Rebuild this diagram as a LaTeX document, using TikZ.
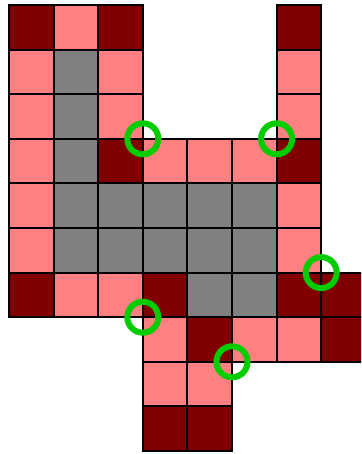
\documentclass[tikz,border=0pt]{standalone}
\definecolor{dk}{HTML}{800000}
\definecolor{pk}{HTML}{FF8080}
\definecolor{gy}{HTML}{808080}
\definecolor{gn}{HTML}{00CC00}
\tikzset{
  cell/.style={draw=black,line width=2pt},
  ring/.style={draw=gn,line width=6pt},
}
\begin{document}
\begin{tikzpicture}[x=1pt,y=-1pt]
\useasboundingbox (0,0) rectangle (361,454);
\clip (0,0) rectangle (361,454);
\def\s{44.6}
\def\xo{9}
\def\yo{5}
\foreach \c/\r/\col in {
 0/0/dk,1/0/pk,2/0/dk,6/0/dk,
 0/1/pk,1/1/gy,2/1/pk,6/1/pk,
 0/2/pk,1/2/gy,2/2/pk,6/2/pk,
 0/3/pk,1/3/gy,2/3/dk,3/3/pk,4/3/pk,5/3/pk,6/3/dk,
 0/4/pk,1/4/gy,2/4/gy,3/4/gy,4/4/gy,5/4/gy,6/4/pk,
 0/5/pk,1/5/gy,2/5/gy,3/5/gy,4/5/gy,5/5/gy,6/5/pk,
 0/6/dk,1/6/pk,2/6/pk,3/6/dk,4/6/gy,5/6/gy,6/6/dk,7/6/dk,
 3/7/pk,4/7/dk,5/7/pk,6/7/pk,7/7/dk,
 3/8/pk,4/8/pk,
 3/9/dk,4/9/dk}
{
  \fill[\col] ({\xo+\c*\s},{\yo+\r*\s}) rectangle ++(\s,\s);
}
\foreach \c/\r/\col in {
 0/0/dk,1/0/pk,2/0/dk,6/0/dk,
 0/1/pk,1/1/gy,2/1/pk,6/1/pk,
 0/2/pk,1/2/gy,2/2/pk,6/2/pk,
 0/3/pk,1/3/gy,2/3/dk,3/3/pk,4/3/pk,5/3/pk,6/3/dk,
 0/4/pk,1/4/gy,2/4/gy,3/4/gy,4/4/gy,5/4/gy,6/4/pk,
 0/5/pk,1/5/gy,2/5/gy,3/5/gy,4/5/gy,5/5/gy,6/5/pk,
 0/6/dk,1/6/pk,2/6/pk,3/6/dk,4/6/gy,5/6/gy,6/6/dk,7/6/dk,
 3/7/pk,4/7/dk,5/7/pk,6/7/pk,7/7/dk,
 3/8/pk,4/8/pk,
 3/9/dk,4/9/dk}
{
  \draw[cell] ({\xo+\c*\s},{\yo+\r*\s}) rectangle ++(\s,\s);
}
\foreach \c/\r in {3/3,6/3,7/6,3/7,5/8}
{
  \draw[ring] ({\xo+\c*\s},{\yo+\r*\s}) circle (15.5);
}
\end{tikzpicture}
\end{document}
